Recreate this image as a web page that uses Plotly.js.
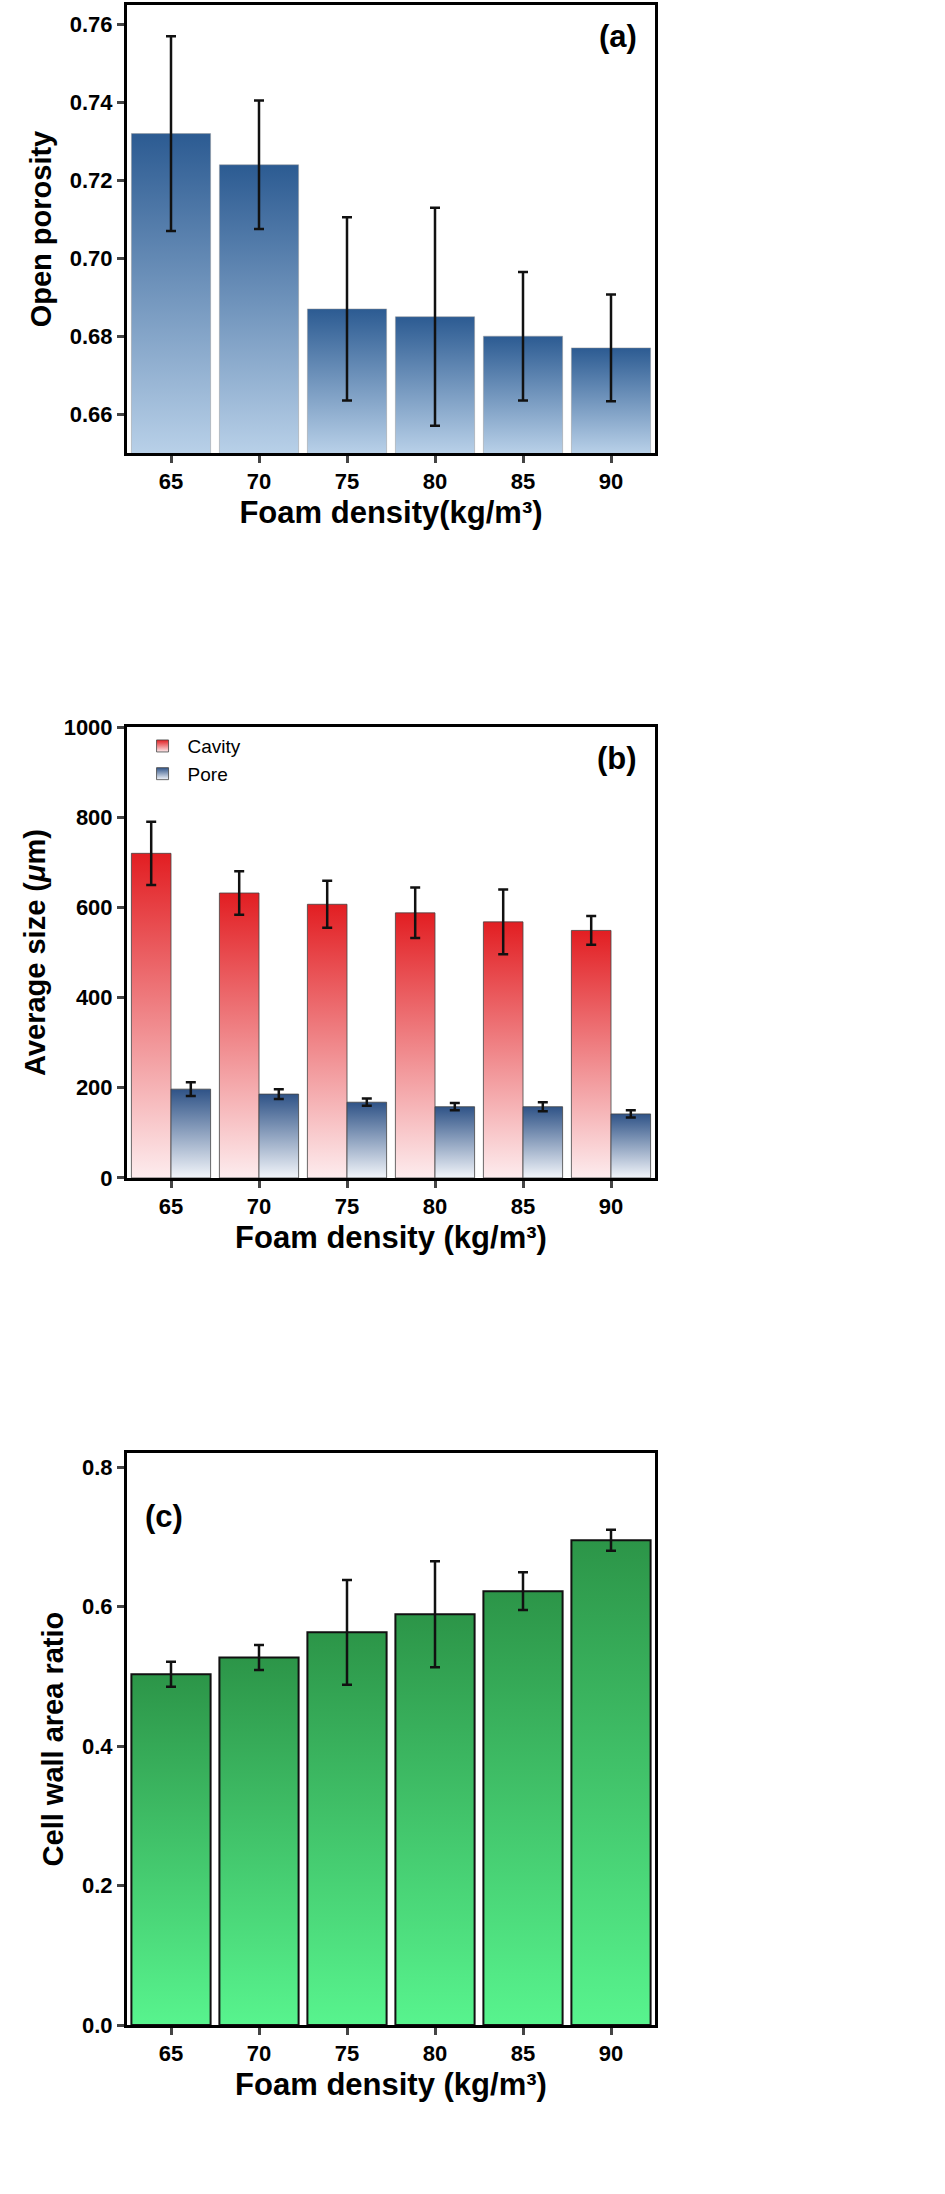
<!DOCTYPE html>
<html>
<head>
<meta charset="utf-8">
<script src="https://cdn.plot.ly/plotly-3.0.1.min.js"></script>
<style>body{margin:0;background:#fff}#chart{width:945px;height:2194px}</style>
</head>
<body>
<div id="chart"></div>
<script>
const densities = ['65', '70', '75', '80', '85', '90'];
const porosity = [0.732, 0.724, 0.687, 0.685, 0.680, 0.677];
const porosityErr = [0.025, 0.0165, 0.0235, 0.028, 0.0165, 0.0137];
const cavitySize = [720, 632, 607, 588, 568, 549];
const cavityErr = [70, 48, 52, 56, 72, 32];
const poreSize = [197, 186, 168, 158, 158, 142];
const poreErr = [15, 11, 8, 8, 10, 8];
const wallRatio = [0.503, 0.527, 0.563, 0.589, 0.622, 0.695];
const wallErr = [0.018, 0.018, 0.075, 0.076, 0.027, 0.015];

const font = 'Liberation Sans, Arial, sans-serif';
const err = (a) => ({type: 'data', array: a, visible: true, color: '#111', thickness: 2.5, width: 5});

const traces = [
    {x: densities, y: porosity, type: 'bar', error_y: err(porosityErr), xaxis: 'x', yaxis: 'y',
     marker: {color: '#6f95c0', line: {color: '#999', width: 0.5}}, showlegend: false, name: 'a'},
    {x: densities, y: cavitySize, type: 'bar', error_y: err(cavityErr), xaxis: 'x2', yaxis: 'y2',
     marker: {color: '#f08a8a', line: {color: '#444', width: 0.8}}, name: 'Cavity'},
    {x: densities, y: poreSize, type: 'bar', error_y: err(poreErr), xaxis: 'x2', yaxis: 'y2',
     marker: {color: '#8ea6c8', line: {color: '#444', width: 0.8}}, name: 'Pore'},
    {x: densities, y: wallRatio, type: 'bar', error_y: err(wallErr), xaxis: 'x3', yaxis: 'y3',
     marker: {color: '#44c870', line: {color: '#111', width: 2}}, showlegend: false, name: 'c'}
];

// gradient per trace: [id, top colour, bottom colour]
const gradients = [
    ['gA', '#2c5b92', '#b8d0e8'],
    ['gCav', '#e21e22', '#fdecee'],
    ['gPore', '#2f5387', '#f2f5fa'],
    ['gC', '#2c9548', '#58f48e']
];

function xAxis(anchor, title) {
    return {
        anchor: anchor, domain: [0, 1], type: 'category',
        showline: true, mirror: true, linewidth: 3, linecolor: '#000',
        ticks: 'outside', ticklen: 7, tickwidth: 2.5,
        tickfont: {family: font, size: 22, color: '#000', weight: 'bold'},
        title: {text: title, font: {family: font, size: 31, color: '#000', weight: 'bold'}, standoff: 8}
    };
}
function yAxis(anchor, domain, range, dtick, title, fmt) {
    return {
        anchor: anchor, domain: domain, range: range, dtick: dtick, tickformat: fmt,
        showline: true, mirror: true, linewidth: 3, linecolor: '#000', showgrid: false, zeroline: false,
        ticks: 'outside', ticklen: 7, tickwidth: 2.5,
        tickfont: {family: font, size: 22, color: '#000', weight: 'bold'},
        title: {text: title, font: {family: font, size: 29, color: '#000', weight: 'bold'}, standoff: 10}
    };
}

const layout = {
    width: 945, height: 2194,
    margin: {l: 127, r: 290, t: 0, b: 0},
    paper_bgcolor: '#fff', plot_bgcolor: '#fff',
    bargap: 0.1, bargroupgap: 0, barmode: 'group',
    xaxis: xAxis('y', 'Foam density(kg/m³)'),
    yaxis: yAxis('x', [0.7935, 0.9977], [0.65, 0.765], 0.02, 'Open porosity', '.2f'),
    xaxis2: xAxis('y2', 'Foam density (kg/m³)'),
    yaxis2: yAxis('x2', [0.4631, 0.6686], [0, 1000], 200, 'Average size (<i>μ</i>m)', 'd'),
    xaxis3: xAxis('y3', 'Foam density (kg/m³)'),
    yaxis3: yAxis('x3', [0.077, 0.3377], [0, 0.82], 0.2, 'Cell wall area ratio', '.1f'),
    legend: {x: 0.02, y: 0.6686, xanchor: 'left', yanchor: 'top', bgcolor: 'rgba(0,0,0,0)',
             font: {family: font, size: 19, color: '#000'}, tracegroupgap: 0, itemwidth: 40},
    annotations: [
        {text: '(a)', xref: 'x domain', yref: 'y domain', x: 0.97, y: 0.93, xanchor: 'right', yanchor: 'middle', showarrow: false,
         font: {family: font, size: 31, color: '#000', weight: 'bold'}},
        {text: '(b)', xref: 'x2 domain', yref: 'y2 domain', x: 0.97, y: 0.93, xanchor: 'right', yanchor: 'middle', showarrow: false,
         font: {family: font, size: 31, color: '#000', weight: 'bold'}},
        {text: '(c)', xref: 'x3 domain', yref: 'y3 domain', x: 0.03, y: 0.89, xanchor: 'left', yanchor: 'middle', showarrow: false,
         font: {family: font, size: 31, color: '#000', weight: 'bold'}}
    ]
};

const ns = 'http://www.w3.org/2000/svg';
function makeGradient(defs, id, top, bottom, userSpace) {
    const lg = document.createElementNS(ns, 'linearGradient');
    lg.setAttribute('id', id);
    if (userSpace) {
        lg.setAttribute('gradientUnits', 'userSpaceOnUse');
        lg.setAttribute('x1', 0); lg.setAttribute('x2', 0);
        lg.setAttribute('y1', userSpace[0]); lg.setAttribute('y2', userSpace[1]);
    } else {
        lg.setAttribute('x1', '0'); lg.setAttribute('y1', '0');
        lg.setAttribute('x2', '0'); lg.setAttribute('y2', '1');
    }
    [[0, top], [1, bottom]].forEach(([o, c]) => {
        const s = document.createElementNS(ns, 'stop');
        s.setAttribute('offset', o);
        s.setAttribute('stop-color', c);
        lg.appendChild(s);
    });
    defs.appendChild(lg);
}

// Plotly has no gradient bar fill, so add SVG gradients after drawing
function applyGradients(gd) {
    const svg = gd.querySelector('.main-svg');
    const defs = svg.querySelector('defs');
    const yLen = gd._fullLayout.yaxis._length;
    gd.querySelectorAll('.barlayer .trace').forEach((tr, i) => {
        const [id, top, bottom] = gradients[i];
        if (i === 0) {
            // axis in (a) starts above zero: fade from visible bar top to axis bottom
            tr.querySelectorAll('.point path').forEach((p, j) => {
                const bb = p.getBBox();
                const gid = id + j;
                makeGradient(defs, gid, top, bottom, [Math.max(bb.y, 0), yLen]);
                p.style.fill = `url(#${gid})`;
            });
        } else {
            makeGradient(defs, id, top, bottom);
            tr.querySelectorAll('.point path').forEach(p => { p.style.fill = `url(#${id})`; });
        }
    });
    gd.querySelectorAll('.legend .traces').forEach((tr, i) => {
        tr.querySelectorAll('.legendpoints path').forEach(p => { p.style.fill = `url(#${gradients[i + 1][0]})`; });
    });
}

Plotly.newPlot('chart', traces, layout, {displayModeBar: false, responsive: false}).then(applyGradients);
</script>
</body>
</html>
